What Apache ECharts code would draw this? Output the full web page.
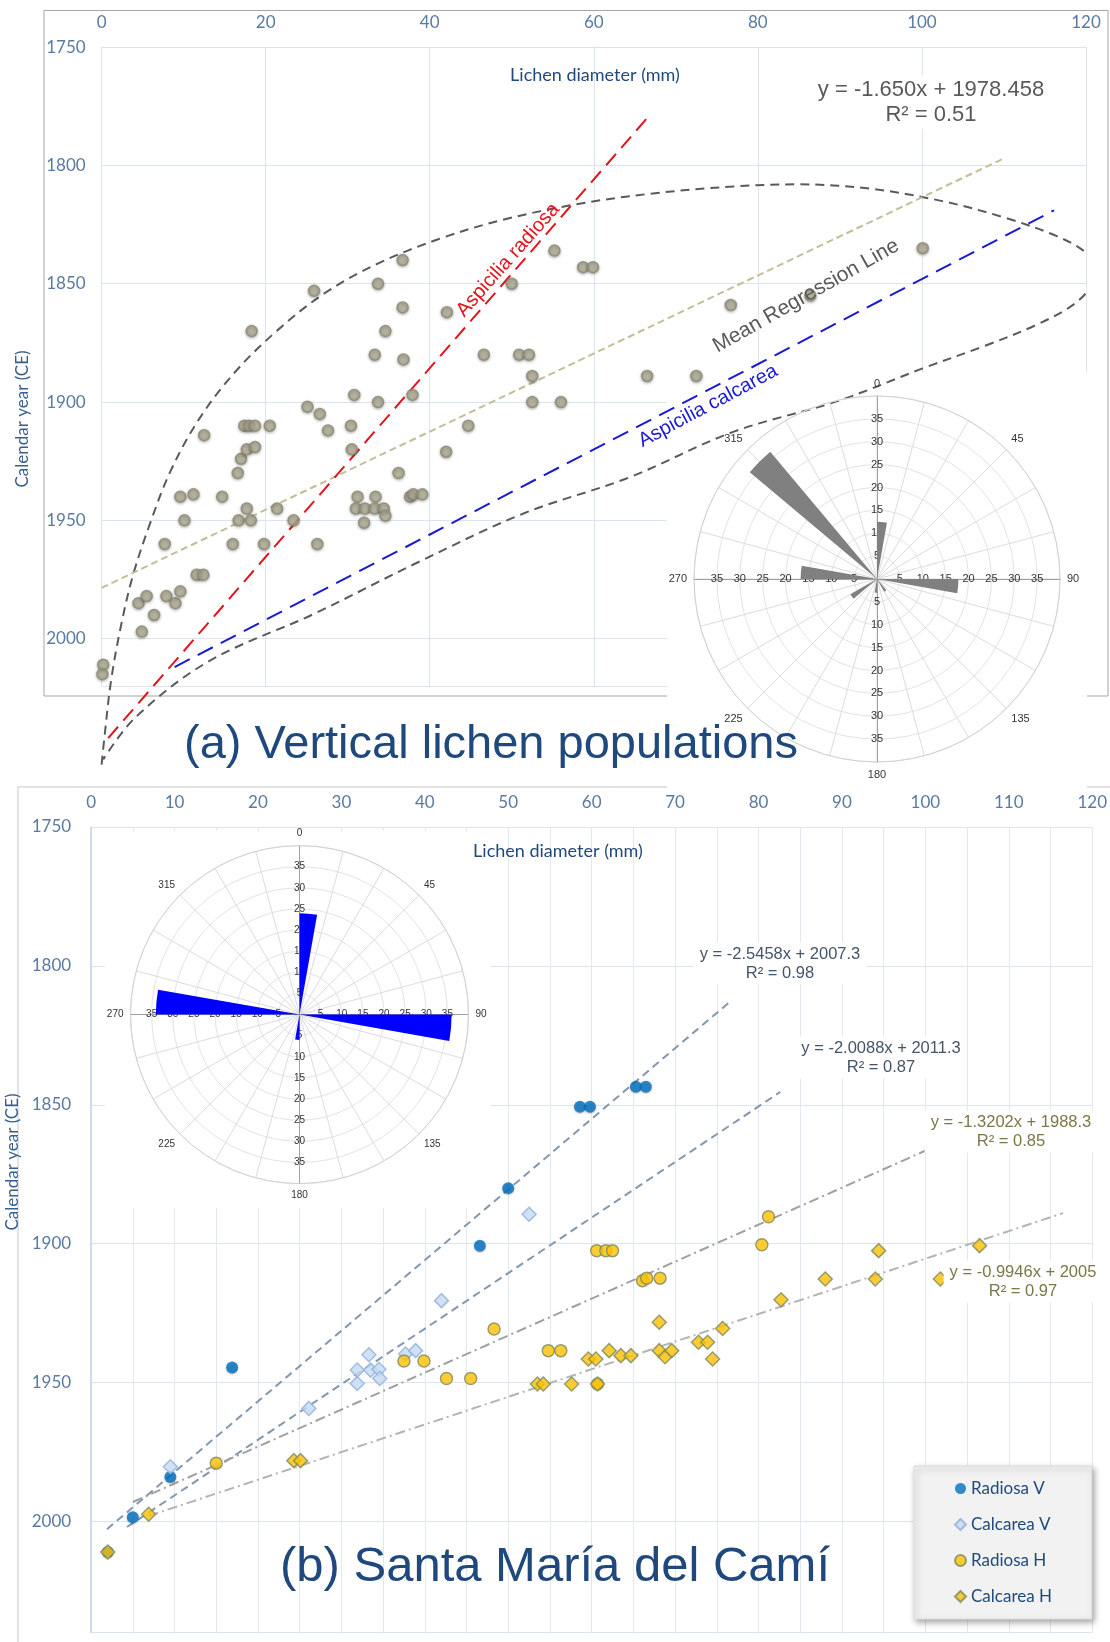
<!DOCTYPE html>
<html>
<head>
<meta charset="utf-8">
<script src="https://cdn.jsdelivr.net/npm/echarts@6.0.0/dist/echarts.min.js"></script>
<style>
  html, body { margin: 0; background: #fff; }
  #chart { width: 1110px; height: 1642px; }
</style>
</head>
<body>
<div id="chart"></div>
<script>
// ---- (a) vertical lichen populations: [diameter mm, calendar year]
const verticalLichens = [
  [18.3,1870],[25.9,1853],[33.7,1850],[36.7,1840],[36.7,1860],[34.6,1870],[33.3,1880],[36.8,1882],
  [42.1,1862],[46.6,1880],[50.9,1880],[52.1,1880],[50.0,1850],[55.2,1836],[52.5,1889],[58.7,1843],
  [59.9,1843],[100.1,1835],[76.7,1859],[86.4,1855],[66.5,1889],[72.5,1889],[52.5,1900],[56.0,1900],
  [0.2,2011],[0.1,2015],[4.9,1997],[6.4,1990],[4.5,1985],[5.5,1982],[7.9,1982],[9.0,1985],
  [9.6,1980],[11.6,1973],[12.4,1973],[7.7,1960],[9.6,1940],[11.2,1939],[10.1,1950],[12.5,1914],
  [14.7,1940],[16.0,1960],[16.7,1950],[17.7,1945],[18.2,1950],[16.6,1930],[17.0,1924],[17.7,1920],
  [18.7,1919],[17.4,1910],[18.0,1910],[18.7,1910],[20.5,1910],[19.8,1960],[21.4,1945],[23.4,1950],
  [25.1,1902],[26.6,1905],[27.6,1912],[26.3,1960],[30.4,1910],[30.8,1897],[30.5,1920],[33.7,1900],
  [37.9,1897],[36.2,1930],[31.2,1940],[33.4,1940],[31.0,1945],[32.1,1945],[33.3,1945],[34.4,1945],
  [32.0,1951],[34.6,1948],[37.6,1940],[38.0,1939],[39.1,1939],[42.0,1921],[44.7,1910]
];
const radiosaLine = [[0.8,2042],[67,1778]];
const calcareaLine = [[8.9,2012],[116.1,1819]];
const meanLine = [[0,1978.5],[110,1797]];
// hand-drawn envelope, traced round from the lower-left tip
const envelope = [
  [0.0,2053.2],[0.4,2039.9],[1.15,2017.8],[2.3,1995.6],[3.8,1973.5],[5.9,1951.4],[8.4,1929.2],
  [11.9,1907.1],[16.3,1887.2],[21.5,1869.5],[27.2,1854],[33.6,1841.6],[41.2,1831],[48.9,1823],
  [57.9,1816.4],[66.8,1812],[77.0,1808.9],[84.7,1808],[93.6,1809.8],[102.5,1815.1],[110.2,1822.2],
  [116.3,1829.7],[119.8,1836.3],[121.3,1843],[120.9,1849.6],[118.6,1858.5],[114.0,1867.3],
  [107.7,1876.2],[100.0,1885.9],[89.8,1899.5],[77.0,1912.6],[64.2,1932],[51.5,1947],
  [38.7,1967.5],[25.9,1989.5],[13.1,2009.5],[4.2,2033],[0.2,2051]
];
// rose (a): sector start angle (10 deg wide) and count
const roseASectors = [0, 90, 140, 180, 230, 270, 310];
const roseAValues = [12.5, 17.8, 3.2, 3, 6.7, 16.7, 36.3];

// ---- (b) Santa Maria del Cami
const radiosaV = [[2.0,2011],[5.0,1998.5],[9.5,1984],[16.9,1944.6],[46.6,1900.7],[50.0,1880],
  [58.6,1850.7],[59.8,1850.7],[65.3,1843.5],[66.5,1843.5]];
const calcareaV = [[9.5,1980.3],[26.1,1959.3],[31.9,1950.3],[31.9,1945.5],[33.3,1940],[33.5,1945.5],
  [34.5,1945.2],[34.6,1948.5],[37.7,1939.7],[38.9,1938.5],[42.0,1920.5],[52.5,1889.4]];
const radiosaH = [[15.0,1979],[37.5,1942.2],[39.9,1942.2],[42.6,1948.5],[45.5,1948.5],[48.3,1930.7],
  [54.8,1938.5],[56.3,1938.5],[60.7,1950.5],[60.6,1902.5],[61.7,1902.5],[62.5,1902.5],[66.1,1913.3],
  [66.6,1912.4],[68.2,1912.4],[80.4,1900.4],[81.2,1890.3]];
const calcareaH = [[2.0,2011],[6.9,1997.4],[24.3,1978.1],[25.1,1978.1],[53.5,1950.5],[54.2,1950.5],
  [57.6,1950.5],[60.7,1950.5],[59.6,1941.5],[60.5,1941.5],[62.1,1938.5],[63.5,1940.3],[64.7,1940.3],
  [68.1,1928.3],[68.1,1938.5],[68.8,1940.7],[69.6,1938.5],[72.8,1935.5],[73.9,1935.5],[74.5,1941.5],
  [75.7,1930.5],[82.7,1920.2],[88.0,1912.7],[94.0,1912.7],[94.4,1902.5],[101.8,1912.7],[106.5,1900.7]];
const trendRV = [[1.9,2002.8],[76.7,1812.6]];
const trendCV = [[4.3,2002],[82.6,1845.4]];
const trendRH = [[5.0,1993],[101.3,1864.8]];
const trendCH = [[6.9,1998],[116.5,1889]];
const roseBSectors = [0, 90, 180, 270];
const roseBValues = [24, 36, 6, 34];

const axisBlue = '#5a7aa2';
const gridBlue = '#dbe5f1';
const labelFont = 'Lato, "Open Sans", sans-serif';

// polar roses: one polar for grid, three for extra radius labels, one for bars
const polar = [], angleAxis = [], radiusAxis = [], roseSeries = [];
function radiusLabel(fs) {
  return { fontSize: fs, color: '#333', fontFamily: 'Liberation Sans', margin: 0,
    align: 'center', verticalAlign: 'middle',
    formatter: v => (v > 0 && v < 40) ? String(v) : '' };
}
function addRose(center, radius, sectors, values, color, fs) {
  const base = polar.length;
  polar.push({ center, radius });
  angleAxis.push({ polarIndex: base, type: 'value', min: 0, max: 360, interval: 15,
    startAngle: 90, clockwise: true, z: 5,
    axisLine: { lineStyle: { color: '#d2d2d2' } },
    axisTick: { show: false },
    splitLine: { lineStyle: { color: '#dcdcdc' } },
    axisLabel: { color: '#333', fontSize: fs, margin: 7, fontFamily: 'Liberation Sans',
      formatter: v => (v % 45 === 0 && v < 360) ? String(v) : '' } });
  radiusAxis.push({ polarIndex: base, min: 0, max: 40, interval: 5, z: 5,
    axisLine: { lineStyle: { color: '#a0a0a0' } }, axisTick: { show: false },
    splitLine: { show: true, lineStyle: { color: '#e3e3e3' } },
    axisLabel: radiusLabel(fs) });
  [0, -90, 180].forEach(sa => {
    const i = polar.length;
    polar.push({ center, radius });
    angleAxis.push({ polarIndex: i, type: 'value', min: 0, max: 360, startAngle: sa, show: false });
    radiusAxis.push({ polarIndex: i, min: 0, max: 40, interval: 5, z: 5,
      axisLine: { lineStyle: { color: '#a0a0a0' } }, axisTick: { show: false },
      splitLine: { show: false }, axisLabel: radiusLabel(fs) });
  });
  const i = polar.length;
  polar.push({ center, radius });
  const cats = [], data = [];
  for (let a = 0; a < 360; a += 10) {
    cats.push(String(a));
    const k = sectors.indexOf(a);
    data.push(k >= 0 ? values[k] : 0);
  }
  angleAxis.push({ polarIndex: i, type: 'category', data: cats, startAngle: 90, clockwise: true, show: false });
  radiusAxis.push({ polarIndex: i, min: 0, max: 40, show: false });
  roseSeries.push({ type: 'bar', coordinateSystem: 'polar', polarIndex: i, data,
    barCategoryGap: '0%', itemStyle: { color }, z: 6, silent: true });
}
addRose([877, 579], 183, roseASectors, roseAValues, '#808080', 11);
addRose([299.5, 1014.6], 169, roseBSectors, roseBValues, '#0000ff', 10);

function label(text, x, y, opts) {
  return Object.assign({ type: 'text', x, y, z: 20,
    style: Object.assign({ text, align: 'center', verticalAlign: 'middle' }, opts.style) },
    opts.rotation !== undefined ? { rotation: opts.rotation } : {});
}
const deg = Math.PI / 180;
const eqFont = '"Liberation Sans Narrow", "Liberation Sans", sans-serif';

const option = {
  backgroundColor: '#fff',
  animation: false,
  grid: [
    { left: 101.6, top: 47.1, width: 984.4, height: 638.9 },
    { left: 91.1, top: 827, width: 1004.9, height: 805.6 }
  ],
  xAxis: [
    { gridIndex: 0, type: 'value', position: 'top', min: 0, max: 120, interval: 20,
      axisLine: { show: false }, axisTick: { show: false },
      axisLabel: { color: axisBlue, fontSize: 17, margin: 16, fontFamily: labelFont },
      splitLine: { lineStyle: { color: gridBlue } } },
    { gridIndex: 1, type: 'value', position: 'top', min: 0, max: 120, interval: 5,
      axisLine: { show: false }, axisTick: { show: false },
      axisLabel: { color: axisBlue, fontSize: 17, margin: 16, fontFamily: labelFont,
        formatter: v => v % 10 === 0 ? String(v) : '' },
      splitLine: { lineStyle: { color: '#e1e8f2' } } }
  ],
  yAxis: [
    { gridIndex: 0, type: 'value', inverse: true, min: 1750, max: 2020, interval: 50,
      axisLine: { show: false }, axisTick: { show: false },
      axisLabel: { color: axisBlue, fontSize: 17, margin: 16, fontFamily: labelFont,
        formatter: v => v % 50 === 0 ? String(v) : '' },
      splitLine: { lineStyle: { color: gridBlue } } },
    { gridIndex: 1, type: 'value', inverse: true, min: 1750, max: 2040, interval: 50,
      axisLine: { show: true, lineStyle: { color: '#c5d5ea', width: 1.5 } }, axisTick: { show: false },
      axisLabel: { color: axisBlue, fontSize: 17, margin: 20, fontFamily: labelFont,
        formatter: v => v % 50 === 0 ? String(v) : '' },
      splitLine: { lineStyle: { color: gridBlue } } }
  ],
  polar, angleAxis, radiusAxis,
  legend: {
    data: ['Radiosa V', 'Calcarea V', 'Radiosa H', 'Calcarea H'],
    orient: 'vertical', left: 914, top: 1466, padding: [14, 40, 14, 40],
    itemGap: 19, itemWidth: 11, itemHeight: 11, selectedMode: false,
    backgroundColor: '#f2f2f2', borderColor: '#dedede', borderWidth: 1,
    shadowBlur: 6, shadowColor: 'rgba(0,0,0,0.35)', shadowOffsetX: 2, shadowOffsetY: 3,
    textStyle: { color: '#1f497d', fontSize: 17, fontFamily: labelFont }, z: 10
  },
  graphic: {
    elements: [
      { type: 'rect', z: 0, shape: { x: 44, y: 10.5, width: 1064, height: 685.5 },
        style: { fill: 'none', stroke: '#a6a6a6', lineWidth: 1 } },
      { type: 'rect', z: 0, shape: { x: 18, y: 787, width: 1110, height: 900 },
        style: { fill: 'none', stroke: '#c8c8c8', lineWidth: 1 } },
      { type: 'rect', z: 1, shape: { x: 667, y: 372, width: 420, height: 420 }, style: { fill: '#fff' } },
      { type: 'rect', z: 1, shape: { x: 105, y: 831, width: 386, height: 377 }, style: { fill: '#fff' } },
      label('Calendar year (CE)', 23, 419, { rotation: 90 * deg,
        style: { font: '17px ' + labelFont, fill: '#3b5f8c' } }),
      label('Calendar year (CE)', 13, 1162, { rotation: 90 * deg,
        style: { font: '17px ' + labelFont, fill: '#3b5f8c' } }),
      label('Lichen diameter (mm)', 595, 75, { style: { font: '18px ' + labelFont, fill: '#1f497d' } }),
      label('Lichen diameter (mm)', 558, 851, { style: { font: '18px ' + labelFont, fill: '#1f497d' } }),
      label('y = -1.650x + 1978.458\nR² = 0.51', 931, 102, {
        style: { font: '22px ' + eqFont, fill: '#595959', lineHeight: 25, backgroundColor: '#fff', padding: [2, 6] } }),
      label('Aspicilia radiosa', 508, 260, { rotation: 48.4 * deg,
        style: { font: '20px "Liberation Sans", sans-serif', fill: '#e3141b' } }),
      label('Aspicilia calcarea', 708, 406, { rotation: 28 * deg,
        style: { font: '20px "Liberation Sans", sans-serif', fill: '#1a1ad2' } }),
      label('Mean Regression Line', 806, 296, { rotation: 29.5 * deg,
        style: { font: '21px "Liberation Sans", sans-serif', fill: '#595959' } }),
      label('(a) Vertical lichen populations', 491, 745, {
        style: { font: '47px "Liberation Sans", sans-serif', fill: '#1f497d' } }),
      label('(b) Santa María del Camí', 555, 1567, {
        style: { font: '49px "Liberation Sans", sans-serif', fill: '#1f497d' } }),
      label('y = -2.5458x + 2007.3\nR² = 0.98', 780, 963.5, {
        style: { font: '16.5px ' + eqFont, fill: '#44546a', lineHeight: 19, backgroundColor: '#fff', padding: [2, 6] } }),
      label('y = -2.0088x + 2011.3\nR² = 0.87', 881, 1057.5, {
        style: { font: '16.5px ' + eqFont, fill: '#44546a', lineHeight: 19, backgroundColor: '#fff', padding: [2, 6] } }),
      label('y = -1.3202x + 1988.3\nR² = 0.85', 1011, 1131.7, {
        style: { font: '16.5px ' + eqFont, fill: '#7b7748', lineHeight: 19, backgroundColor: '#fff', padding: [2, 6] } }),
      label('y = -0.9946x + 2005\nR² = 0.97', 1023, 1281.5, {
        style: { font: '16.5px ' + eqFont, fill: '#7b7748', lineHeight: 19, backgroundColor: '#fff', padding: [2, 6] } })
    ]
  },
  series: [
    { type: 'line', xAxisIndex: 0, yAxisIndex: 0, data: envelope, smooth: 0.35, symbol: 'none', clip: false,
      silent: true, z: 3, lineStyle: { color: '#5a5a5a', width: 2, type: [9, 6] } },
    { type: 'line', xAxisIndex: 0, yAxisIndex: 0, data: meanLine, symbol: 'none', clip: false,
      silent: true, z: 3, lineStyle: { color: '#c4bd97', width: 2, type: [7, 4] } },
    { type: 'line', xAxisIndex: 0, yAxisIndex: 0, data: radiosaLine, symbol: 'none', clip: false,
      silent: true, z: 3, lineStyle: { color: '#e3141b', width: 2, type: [15, 8] } },
    { type: 'line', xAxisIndex: 0, yAxisIndex: 0, data: calcareaLine, symbol: 'none', clip: false,
      silent: true, z: 3, lineStyle: { color: '#1a1ad2', width: 2, type: [17, 9] } },
    { type: 'scatter', xAxisIndex: 0, yAxisIndex: 0, data: verticalLichens, symbolSize: 11, z: 4,
      itemStyle: { color: '#b1ae96', borderColor: '#8c8973', borderWidth: 1.5,
        shadowBlur: 3, shadowColor: 'rgba(0,0,0,0.35)', shadowOffsetY: 1 } },

    { type: 'line', xAxisIndex: 1, yAxisIndex: 1, data: trendRV, symbol: 'none', silent: true, z: 3,
      lineStyle: { color: '#8497b0', width: 2, type: [8, 5] } },
    { type: 'line', xAxisIndex: 1, yAxisIndex: 1, data: trendCV, symbol: 'none', silent: true, z: 3,
      lineStyle: { color: '#8497b0', width: 2, type: [8, 5] } },
    { type: 'line', xAxisIndex: 1, yAxisIndex: 1, data: trendRH, symbol: 'none', silent: true, z: 3,
      lineStyle: { color: '#a0a0a0', width: 2, type: [10, 4, 2, 4] } },
    { type: 'line', xAxisIndex: 1, yAxisIndex: 1, data: trendCH, symbol: 'none', silent: true, z: 3,
      lineStyle: { color: '#b4b4b4', width: 2, type: [10, 4, 2, 4] } },
    { name: 'Radiosa V', type: 'scatter', xAxisIndex: 1, yAxisIndex: 1, data: radiosaV, symbol: 'circle',
      symbolSize: 12, z: 4, itemStyle: { color: '#0070c0', shadowBlur: 2, shadowColor: 'rgba(0,0,0,0.3)', shadowOffsetY: 1 } },
    { name: 'Calcarea V', type: 'scatter', xAxisIndex: 1, yAxisIndex: 1, data: calcareaV, symbol: 'diamond',
      symbolSize: 14, z: 4, itemStyle: { color: '#c6d9f1', borderColor: '#8fb0dc', borderWidth: 1.5 } },
    { name: 'Radiosa H', type: 'scatter', xAxisIndex: 1, yAxisIndex: 1, data: radiosaH, symbol: 'circle',
      symbolSize: 12, z: 4, itemStyle: { color: '#ffc000', borderColor: '#7d8b5c', borderWidth: 1.5 } },
    { name: 'Calcarea H', type: 'scatter', xAxisIndex: 1, yAxisIndex: 1, data: calcareaH, symbol: 'diamond',
      symbolSize: 14, z: 4, itemStyle: { color: '#ffc000', borderColor: '#7d8b5c', borderWidth: 1.5 } }
  ].concat(roseSeries)
};

const chart = echarts.init(document.getElementById('chart'));
chart.setOption(option);
</script>
</body>
</html>
